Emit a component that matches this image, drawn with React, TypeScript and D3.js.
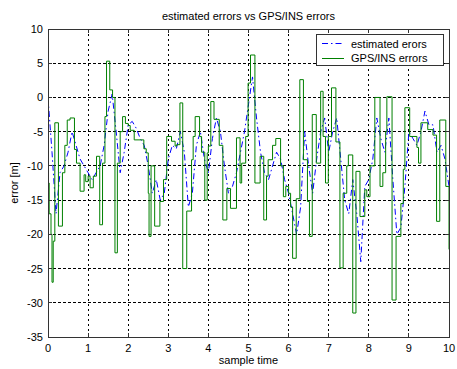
import React from "react";
import * as d3 from "d3";

// GPS/INS errors: step breakpoints (sample time, error [m])
const gpsTime = [
  0, 0.03, 0.075, 0.1, 0.13, 0.17, 0.26, 0.36, 0.42, 0.48, 0.55, 0.66, 0.71, 0.8, 0.9, 0.94,
  1.0, 1.05, 1.13, 1.21, 1.29, 1.36, 1.42, 1.46, 1.54, 1.61, 1.67, 1.73, 1.8, 1.86, 1.93,
  2.0, 2.05, 2.15, 2.39, 2.45, 2.5, 2.52, 2.57, 2.66, 2.79, 2.88, 2.96,
  3.08, 3.17, 3.21, 3.29, 3.36, 3.46, 3.58, 3.62, 3.67, 3.78, 3.83, 3.91, 3.97,
  4.0, 4.06, 4.14, 4.27, 4.36, 4.46, 4.55, 4.7, 4.79, 4.83, 4.93, 4.99,
  5.05, 5.16, 5.29, 5.38, 5.45, 5.49, 5.6, 5.68, 5.8, 5.87, 5.93,
  6.0, 6.05, 6.1, 6.19, 6.28, 6.37, 6.47, 6.52, 6.59, 6.69, 6.8, 6.86, 6.92, 6.99,
  7.07, 7.18, 7.28, 7.36, 7.45, 7.49, 7.6, 7.68, 7.78, 7.9, 7.95,
  8.03, 8.15, 8.28, 8.35, 8.42, 8.45, 8.58, 8.68, 8.8, 8.86, 8.9,
  9.02, 9.2, 9.24, 9.3, 9.47, 9.6, 9.69, 9.77, 9.92, 10.0,
];
const gpsErr = [
  -12.5, -17, -20, -27, -21, -3.7, -18.8, -11, -7, -3.3, -3, -7.6, -9.6, -13.7, -11.3, -12.3,
  -11.5, -13.2, -11.5, -8.6, -18.6, -9.6, -2.8, 5.3, 1.1, 0, -22.7, -9.6, -5, -2.8, -3.8,
  -4.1, -4.8, -6.2, -7.5, -8.1, -14, -20.3, -10, -18.8, -15.2, -12, -5.7,
  -6.4, -7.1, -6.9, -0.8, -25, -16.6, -9.1, -5.7, -2.8, -5.7, -8, -15, -8.1,
  -7.1, -0.6, -3.2, -7, -17.9, -13.3, -16.2, -5.9, -12.5, -9.6, -5.7, 2.1,
  6.2, -12.5, -8.6, -17.9, -11.5, -9.1, -7, -6, -10, -14.5, -13,
  -14, -16, -23.5, -14.8, 2.6, -9.1, -15.2, -20.3, -2.5, -9.6, 0.9, -5.7, -12.5, -5.7,
  1.4, -6.5, -24.9, -14, -10, -8.4, -31.5, -10.8, -17.4, -13.5, -14.5,
  -10, 0, -13, -11, -5, 0.1, -29.6, -20.3, -15.5, -10.5, -1.5,
  -5.7, -7.3, -9.6, -3.7, -4.7, -5.5, -18.1, -3.3, -13, -22.2,
];

// estimated errors
const estTime = [
  0, 0.1, 0.2, 0.3, 0.4, 0.5, 0.6, 0.7, 0.8, 0.9,
  1.0, 1.1, 1.2, 1.3, 1.4, 1.5, 1.6, 1.7, 1.8, 1.9,
  2.0, 2.1, 2.2, 2.3, 2.4, 2.5, 2.6, 2.7, 2.8, 2.9,
  3.0, 3.1, 3.2, 3.3, 3.4, 3.5, 3.6, 3.7, 3.8, 3.9,
  4.0, 4.1, 4.2, 4.3, 4.4, 4.5, 4.6, 4.7, 4.8, 4.9,
  5.0, 5.1, 5.2, 5.3, 5.4, 5.5, 5.6, 5.7, 5.8, 5.9,
  6.0, 6.1, 6.2, 6.3, 6.4, 6.5, 6.6, 6.7, 6.8, 6.9,
  7.0, 7.1, 7.2, 7.3, 7.4, 7.5, 7.6, 7.7, 7.8, 7.9,
  8.0, 8.1, 8.2, 8.3, 8.4, 8.5, 8.6, 8.7, 8.8, 8.9,
  9.0, 9.1, 9.2, 9.3, 9.4, 9.5, 9.6, 9.7, 9.8, 9.9, 10.0,
];
const estErr = [
  0, -8, -17, -11, -10, -8, -5, -7, -9, -10,
  -11, -12, -11, -10, -7, -2, 0.5, -5, -11, -8,
  -4, -3.5, -4.5, -6, -7, -10, -14, -12, -15, -14,
  -9, -7, -7.5, -5, -8, -16, -14, -7, -5, -9,
  -11, -6, -3, -5, -10, -14, -13, -11, -8, -5,
  -1, 3, -3, -8, -11, -12, -10, -8, -9, -12,
  -14, -17, -20, -16, -5, -10, -14, -9, -5, -3,
  -8, -5, -3, -9, -15, -17, -12, -17, -24, -13,
  -12, -9, -3, -6, -8, -3, -12, -20, -19, -13,
  -5, -6, -7, -5, -2, -4, -4, -8, -7, -9, -13,
];

const xTicks = [0, 1, 2, 3, 4, 5, 6, 7, 8, 9, 10];
const yTicks = [-35, -30, -25, -20, -15, -10, -5, 0, 5, 10];

const W = 457;
const H = 369;
const L = 48;
const R = 449;
const T = 29;
const B = 337;
const FONT = "'Liberation Sans', Arial, sans-serif";

export default function App() {
  const x = d3.scaleLinear().domain([0, 10]).range([L, R]);
  const y = d3.scaleLinear().domain([-35, 10]).range([B, T]);

  const gpsLine = d3
    .line<number>()
    .x((_, i) => x(gpsTime[i]))
    .y((d) => y(d))
    .curve(d3.curveStepAfter)(gpsErr) as string;

  const estLine = d3
    .line<number>()
    .x((_, i) => x(estTime[i]))
    .y((d) => y(d))(estErr) as string;

  const frame = "#333";

  return (
    <svg
      width={W}
      height={H}
      style={{ position: "absolute", left: 0, top: 0, background: "#fff" }}
      fontFamily={FONT}
    >
      <defs>
        <clipPath id="plotclip">
          <rect x={L} y={T} width={R - L} height={B - T} />
        </clipPath>
      </defs>
      <rect x={0} y={0} width={W} height={H} fill="#fff" />
      {/* grid */}
      {xTicks.slice(1, -1).map((t) => (
        <line
          key={"gx" + t}
          x1={x(t)}
          x2={x(t)}
          y1={T}
          y2={B}
          stroke="#000"
          strokeWidth={1}
          strokeDasharray="2,3"
          shapeRendering="crispEdges"
        />
      ))}
      {yTicks.slice(1, -1).map((t) => (
        <line
          key={"gy" + t}
          x1={L}
          x2={R}
          y1={y(t)}
          y2={y(t)}
          stroke="#000"
          strokeWidth={1}
          strokeDasharray="3,2"
          shapeRendering="crispEdges"
        />
      ))}
      {/* data */}
      <g clipPath="url(#plotclip)">
        <path d={estLine} fill="none" stroke="#0000ff" strokeWidth={1} strokeDasharray="6,3,1.5,3" />
        <path d={gpsLine} fill="none" stroke="#008000" strokeWidth={1} />
      </g>
      {/* frame */}
      <rect x={L} y={T} width={R - L} height={B - T} fill="none" stroke={frame} strokeWidth={1} shapeRendering="crispEdges" />
      {xTicks.map((t) => (
        <g key={"xt" + t}>
          <line x1={x(t)} x2={x(t)} y1={B} y2={B - 4} stroke={frame} shapeRendering="crispEdges" />
          <line x1={x(t)} x2={x(t)} y1={T} y2={T + 4} stroke={frame} shapeRendering="crispEdges" />
          <text x={x(t)} y={352} textAnchor="middle" fontSize={11} fill="#000">
            {t}
          </text>
        </g>
      ))}
      {yTicks.map((t) => (
        <g key={"yt" + t}>
          <line x1={L} x2={L + 4} y1={y(t)} y2={y(t)} stroke={frame} shapeRendering="crispEdges" />
          <line x1={R} x2={R - 4} y1={y(t)} y2={y(t)} stroke={frame} shapeRendering="crispEdges" />
          <text x={43} y={y(t) + 4} textAnchor="end" fontSize={11} fill="#000">
            {t}
          </text>
        </g>
      ))}
      {/* labels */}
      <text x={(L + R) / 2} y={20} textAnchor="middle" fontSize={11} fill="#000">
        estimated errors vs GPS/INS errors
      </text>
      <text x={(L + R) / 2} y={364} textAnchor="middle" fontSize={11} fill="#000">
        sample time
      </text>
      <text
        transform={`translate(18,${(T + B) / 2}) rotate(-90)`}
        textAnchor="middle"
        fontSize={11}
        fill="#000"
      >
        error [m]
      </text>
      {/* legend */}
      <rect x={316} y={34} width={127} height={31} fill="#fff" stroke={frame} strokeWidth={1} shapeRendering="crispEdges" />
      <line x1={322} x2={344} y1={43.5} y2={43.5} stroke="#0000ff" strokeDasharray="6,3,1.5,3" />
      <text x={351} y={47.5} fontSize={11} fill="#000">
        estimated erors
      </text>
      <line x1={322} x2={344} y1={58.5} y2={58.5} stroke="#008000" />
      <text x={351} y={61.5} fontSize={11} fill="#000">
        GPS/INS errors
      </text>
    </svg>
  );
}
